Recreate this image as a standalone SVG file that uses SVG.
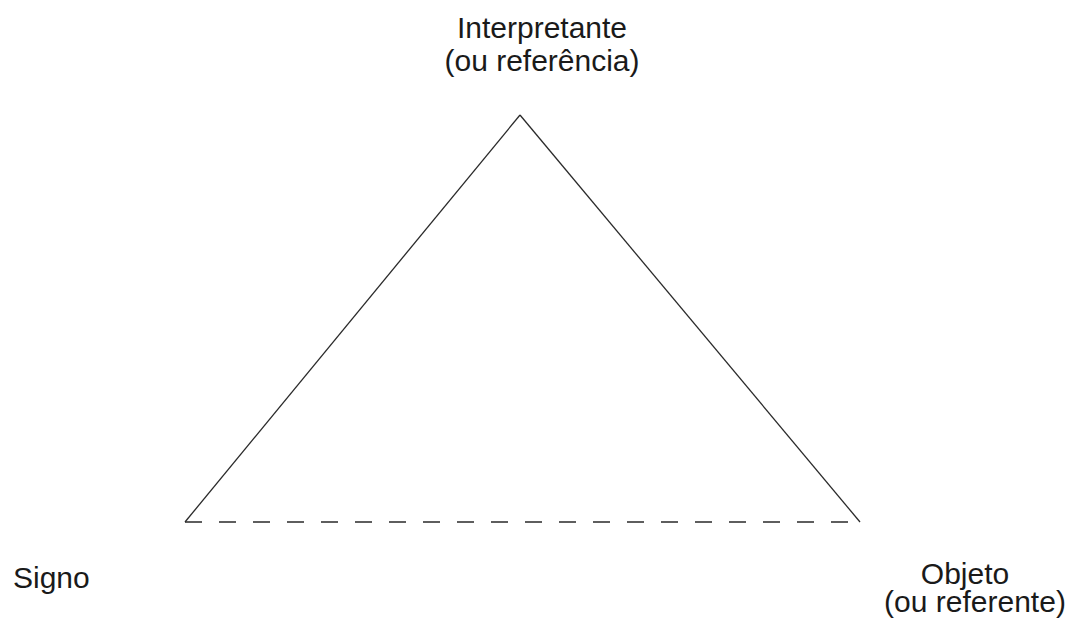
<svg xmlns="http://www.w3.org/2000/svg" width="1068" height="623" viewBox="0 0 1068 623">
<style>
text{font-family:"Liberation Sans",Arial,sans-serif;font-size:30px;fill:#1a1a1a;text-anchor:middle}
.edge{stroke:#2a2a2a;stroke-width:1.3;fill:none}
.dash{stroke-dasharray:17 17}
</style>
<rect width="1068" height="623" fill="#fff"/>
<g id="connectors">
<line class="edge" x1="185" y1="522" x2="520" y2="115"/>
<line class="edge" x1="520" y1="115" x2="860" y2="522"/>
<line class="edge dash" x1="185" y1="522" x2="860" y2="522"/>
</g>
<g id="interpretante">
<text x="542" y="38">Interpretante</text>
<text x="542" y="71">(ou referência)</text>
</g>
<g id="signo">
<text x="13" y="588" style="text-anchor:start">Signo</text>
</g>
<g id="objeto">
<text x="965" y="584">Objeto</text>
<text x="975" y="612">(ou referente)</text>
</g>
</svg>
